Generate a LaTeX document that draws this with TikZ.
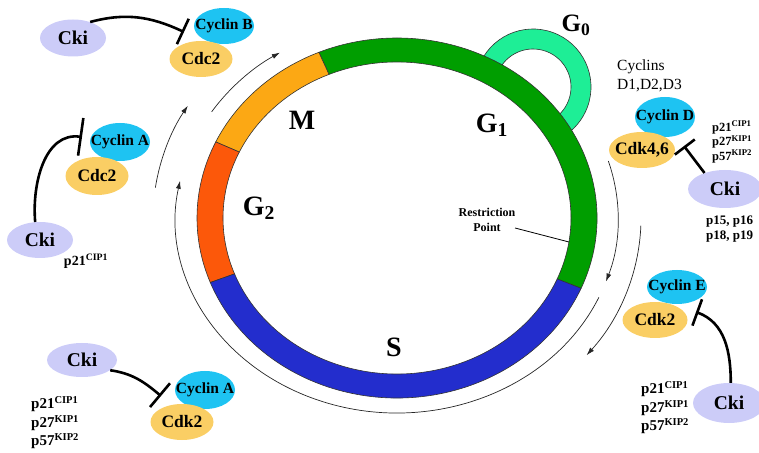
\documentclass[tikz,border=0pt]{standalone}
\usepackage{fontspec}
\setmainfont{Liberation Serif}
\usetikzlibrary{shapes.geometric,arrows.meta}
\definecolor{gone}{RGB}{0,158,0}
\definecolor{gzero}{RGB}{30,238,150}
\definecolor{mph}{RGB}{252,168,20}
\definecolor{gtwo}{RGB}{252,88,10}
\definecolor{sph}{RGB}{35,45,205}
\definecolor{ckic}{RGB}{204,204,248}
\definecolor{cycc}{RGB}{30,195,242}
\definecolor{cdkc}{RGB}{250,206,100}
\newcommand{\tx}[1]{\makebox[0pt]{#1}}

\begin{document}
\begin{tikzpicture}[x=1pt,y=1pt,
  ring/.style={draw=black!80,line width=0.6pt},
  flow/.style={black!85,line width=0.7pt,-{Latex[length=8pt,width=5pt]}},
  inh/.style={line width=2.6pt,-{Bar[width=28pt]}},
  cki/.style={ellipse,fill=ckic,inner sep=0pt,minimum width=66pt,minimum height=37pt,
    font=\fontsize{19.5}{22}\selectfont\bfseries},
  cyc/.style={ellipse,fill=cycc,inner sep=0pt,minimum width=60pt,minimum height=36pt,
    font=\fontsize{15.5}{17}\selectfont\bfseries},
  cdk/.style={ellipse,fill=cdkc,inner sep=0pt,minimum width=63pt,minimum height=36pt,
    font=\fontsize{17.5}{20}\selectfont\bfseries},
  phase/.style={inner sep=0pt,font=\fontsize{28}{30}\selectfont\bfseries},
  lst/.style={align=left,inner sep=0pt,anchor=west}]
\useasboundingbox (0,0) rectangle (759,452);
\coordinate (c) at (397,234);
% G0 loop, under the ring
\filldraw[ring,fill=gzero] (533,365) ++(160:58) arc[start angle=160,end angle=-60,radius=58]
  -- ++(-60:-20) arc[start angle=-60,end angle=160,radius=38] -- cycle;
% the four phases of the ring
\foreach \a/\b/\col in {-23/113/gone,113/155/mph,155/201/gtwo,201/337/sph}
  \filldraw[ring,fill=\col] (c) ++(\a:200 and 180)
    arc[start angle=\a,end angle=\b,x radius=200,y radius=180]
    -- ++(\b:-26 and -24)
    arc[start angle=\b,end angle=\a,x radius=174,y radius=156] -- cycle;
% thin arrows round the ring
\foreach \a/\b/\rx/\ry in {147/122/221/195,17/-19/221/195,-24/-191/221/195,
    172/149/244/218,-2/-39/244/218}
  \draw[flow] (c) ++(\a:\rx pt and \ry pt)
    arc[start angle=\a,end angle=\b,x radius=\rx,y radius=\ry];
% phase labels
\node[phase,font=\fontsize{25}{28}\selectfont\bfseries] (gzl) at (576,427) {G\textsubscript{0}};
\node[phase] (gol) at (492,327) {G\textsubscript{1}};
\node[phase] (ml) at (302,332) {M};
\node[phase] (gtl) at (259,244) {G\textsubscript{2}};
\node[phase] (sl) at (394,105) {S};
% restriction point
\node[align=center,inner sep=0pt,font=\fontsize{12}{15}\selectfont\bfseries] (rptxt)
  at (487,232) {Restriction\\Point};
\coordinate (rpa) at (515,224);
\coordinate (rp) at (569,210);
\draw[line width=0.8pt] (rpa) -- (rp);

% top left: cyclin B / Cdc2
\node[cki] (cki1) at (73,414) {\tx{Cki}};
\node[cyc] (cycb) at (224,426) {\tx{Cyclin B}};
\node[cdk] (cdc2a) at (201,393) {\tx{Cdc2}};
\coordinate (bar1) at (184,420);
\draw[inh] (cki1.43) to[out=15,in=155] (bar1);
% left: cyclin A / Cdc2
\node[cyc,minimum height=38pt] (cyca1) at (120,310) {\tx{Cyclin A}};
\node[cdk,minimum height=38pt] (cdc2b) at (97,276) {\tx{Cdc2}};
\node[cki,minimum height=36pt] (cki2) at (40,212) {\tx{Cki}};
\node[font=\fontsize{14}{16}\selectfont\bfseries] (cipl) at (86,191) {p21\textsuperscript{CIP1}};
\coordinate (bar2) at (82,315);
\draw[inh,-{Bar[width=38pt]}] (cki2.105) to[out=95,in=172] (bar2);
% bottom left: cyclin A / Cdk2
\node[cki,minimum width=70pt,minimum height=34pt] (cki3) at (82,92) {\tx{Cki}};
\node[cyc,minimum height=38pt] (cyca2) at (205,62) {\tx{Cyclin A}};
\node[cdk] (cdk2a) at (182,30) {\tx{Cdk2}};
\node[lst,font=\fontsize{15}{18.5}\selectfont\bfseries] (kipbl) at (31,29)
  {p21\textsuperscript{CIP1}\\p27\textsuperscript{KIP1}\\p57\textsuperscript{KIP2}};
\coordinate (bar3) at (161,56);
\draw[inh,-{Bar[width=31pt]}] (cki3.-20) to[out=-8,in=140] (bar3);
% right: cyclin D / Cdk4,6
\node[lst,font=\fontsize{15.5}{19}\selectfont] (cycl) at (617,376.5) {Cyclins\\D1,D2,D3};
\node[cyc,minimum height=40pt] (cycd) at (665,335) {\tx{Cyclin D}};
\node[cdk,minimum width=66pt] (cdk46) at (642,302) {\tx{Cdk4,6}};
\node[cki,minimum width=74pt,minimum height=38pt] (cki4) at (725,263) {\tx{Cki}};
\node[lst,font=\fontsize{12.5}{14.5}\selectfont\bfseries] (kipr) at (712,310)
  {p21\textsuperscript{CIP1}\\p27\textsuperscript{KIP1}\\p57\textsuperscript{KIP2}};
\node[lst,font=\fontsize{13}{15}\selectfont\bfseries] (inkr) at (706,222.5) {p15, p16\\p18, p19};
\coordinate (bar4) at (684,306);
\draw[inh,-{Bar[width=25pt]}] (cki4.142) -- (bar4);
% bottom right: cyclin E / Cdk2
\node[cyc,minimum height=34pt] (cyce) at (677,165) {\tx{Cyclin E}};
\node[cdk,minimum width=65pt] (cdk2b) at (655,132) {\tx{Cdk2}};
\node[cki,minimum width=72pt,minimum height=40pt] (cki5) at (729,49) {\tx{Cki}};
\node[lst,font=\fontsize{15}{18.5}\selectfont\bfseries] (kipbr) at (641,44)
  {p21\textsuperscript{CIP1}\\p27\textsuperscript{KIP1}\\p57\textsuperscript{KIP2}};
\coordinate (bar5) at (696,140);
\draw[inh] (cki5.85) to[out=90,in=-20] (bar5);
\end{tikzpicture}
\end{document}
